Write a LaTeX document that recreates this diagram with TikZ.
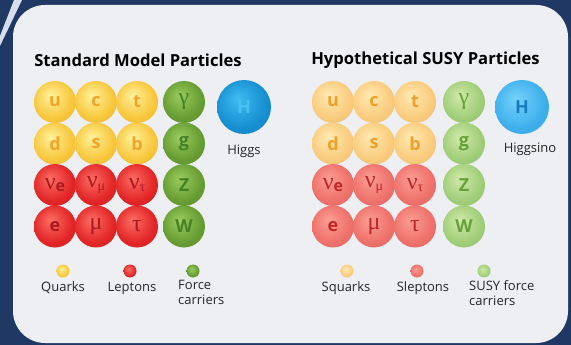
\documentclass[tikz,border=0pt]{standalone}
\usepackage{fontspec}
\setmainfont{Open Sans}
\newfontfamily\grk{Liberation Serif}
\usetikzlibrary{positioning}

\definecolor{navy}{RGB}{31,56,100}
\definecolor{panel}{RGB}{238,239,243}
\definecolor{stripe}{RGB}{215,222,235}
% standard model
\definecolor{quarkin}{RGB}{255,242,155}
\definecolor{quarkout}{RGB}{248,198,58}
\definecolor{quarktxt}{RGB}{240,165,40}
\definecolor{leptin}{RGB}{252,110,100}
\definecolor{leptout}{RGB}{226,36,38}
\definecolor{lepttxt}{RGB}{172,25,30}
\definecolor{forcein}{RGB}{155,204,95}
\definecolor{forceout}{RGB}{102,156,50}
\definecolor{forcetxt}{RGB}{72,128,38}
\definecolor{higgsin}{RGB}{64,188,242}
\definecolor{higgsout}{RGB}{22,142,208}
\definecolor{higgstxt}{RGB}{72,192,242}
% susy
\definecolor{squarkin}{RGB}{255,234,178}
\definecolor{squarkout}{RGB}{250,203,124}
\definecolor{squarktxt}{RGB}{240,160,40}
\definecolor{sleptin}{RGB}{252,158,148}
\definecolor{sleptout}{RGB}{238,112,106}
\definecolor{slepttxt}{RGB}{190,38,40}
\definecolor{sforcein}{RGB}{208,234,170}
\definecolor{sforceout}{RGB}{160,205,120}
\definecolor{sforcetxt}{RGB}{104,160,60}
\definecolor{sinoin}{RGB}{118,210,250}
\definecolor{sinoout}{RGB}{62,175,236}
\definecolor{sinotxt}{RGB}{24,124,190}

\colorlet{ballin}{white}
\colorlet{ballout}{gray}
\pgfdeclareradialshading[ballin,ballout]{partball}{\pgfqpoint{-6bp}{8bp}}{%
  color(0bp)=(ballin); color(24bp)=(ballout); color(34bp)=(ballout!94!black);
  color(50bp)=(ballout!94!black)}

\newcommand{\grl}[1]{{\grk\mdseries\fontsize{24}{24}\selectfont #1}}
\newcommand{\nue}{\grl{ν}{\fontsize{16}{16}\selectfont\raisebox{-2.5pt}{e}}}
\newcommand{\numu}{\grl{ν\raisebox{-2.5pt}{\fontsize{14}{14}\selectfont μ}}}
\newcommand{\nutau}{\grl{ν\raisebox{-2.5pt}{\fontsize{14}{14}\selectfont τ}}}

\tikzset{
  ballcols/.code 2 args={\colorlet{ballin}{#1}\colorlet{ballout}{#2}},
  ball/.style={circle,minimum size=42pt,inner sep=0pt,shading=partball,
    font=\bfseries\fontsize{18}{18}\selectfont},
  dot/.style={minimum size=13pt},
  quark/.style={ball,ballcols={quarkin}{quarkout},text=quarktxt},
  lepton/.style={ball,ballcols={leptin}{leptout},text=lepttxt},
  force/.style={ball,ballcols={forcein}{forceout},text=forcetxt},
  higgs/.style={ball,minimum size=54pt,ballcols={higgsin}{higgsout},text=higgstxt},
  squark/.style={ball,ballcols={squarkin}{squarkout},text=squarktxt},
  slepton/.style={ball,ballcols={sleptin}{sleptout},text=slepttxt},
  sforce/.style={ball,ballcols={sforcein}{sforceout},text=sforcetxt},
  higgsino/.style={ball,minimum size=54pt,ballcols={sinoin}{sinoout},text=sinotxt},
  heading/.style={font=\bfseries\fontsize{16.6}{18}\selectfont,inner sep=0pt},
  caption/.style={font=\fontsize{13}{15}\selectfont,inner sep=0pt,text=black!85}
}

\begin{document}
\begin{tikzpicture}[x=1pt,y=-1pt]
  \useasboundingbox (0,0) rectangle (571,345);
  \fill[navy] (0,0) rectangle (571,345);
  \fill[stripe] (14,0) -- (22,0) -- (0,46) -- (0,36) -- cycle;
  \fill[panel,rounded corners=32pt] (13,5) rectangle (568,343);

  % standard model
  \node[heading] (smtitle) at (138,60) {Standard Model Particles};
  \foreach \nm/\txt [count=\i from 0] in {u/u,c/c,t/t}
    \node[quark] (sm-\nm) at ({55+41*\i},102) {\txt};
  \foreach \nm/\txt [count=\i from 0] in {d/d,s/s,b/b}
    \node[quark] (sm-\nm) at ({55+41*\i},143.5) {\txt};
  \foreach \nm/\txt [count=\i from 0] in {ne/\nue,nm/\numu,nt/\nutau}
    \node[lepton] (sm-\nm) at ({55+41*\i},185) {\txt};
  \foreach \nm/\txt [count=\i from 0] in {e/e,mu/\grl{μ},tau/\grl{τ}}
    \node[lepton] (sm-\nm) at ({55+41*\i},226.5) {\txt};
  \foreach \nm/\txt [count=\i from 0] in {ga/\grl{γ},g/g,Z/Z,W/W}
    \node[force] (sm-\nm) at (184,{102+41.5*\i}) {\txt};
  \node[higgs] (sm-H) at (244,107) {H};
  \node[caption,below=11pt of sm-H] (sm-Hl) {Higgs};

  \node[quark,dot] (lg-q) at (63,271) {};
  \node[lepton,dot] (lg-l) at (130,271) {};
  \node[force,dot] (lg-f) at (193,271) {};
  \node[caption,anchor=base] (lg-qt) at (63,291) {Quarks};
  \node[caption,anchor=base] (lg-lt) at (132,291) {Leptons};
  \node[caption,anchor=north west,align=left] (lg-ft) at (178,280.5) {Force\\carriers};

  % susy
  \node[heading] (sytitle) at (425.5,60) {Hypothetical SUSY Particles};
  \foreach \nm/\txt [count=\i from 0] in {u/u,c/c,t/t}
    \node[squark] (sy-\nm) at ({333+41*\i},102) {\txt};
  \foreach \nm/\txt [count=\i from 0] in {d/d,s/s,b/b}
    \node[squark] (sy-\nm) at ({333+41*\i},143.5) {\txt};
  \foreach \nm/\txt [count=\i from 0] in {ne/\nue,nm/\numu,nt/\nutau}
    \node[slepton] (sy-\nm) at ({333+41*\i},185) {\txt};
  \foreach \nm/\txt [count=\i from 0] in {e/e,mu/\grl{μ},tau/\grl{τ}}
    \node[slepton] (sy-\nm) at ({333+41*\i},226.5) {\txt};
  \foreach \nm/\txt [count=\i from 0] in {ga/\grl{γ},g/g,Z/Z,W/W}
    \node[sforce] (sy-\nm) at (464,{102+41.5*\i}) {\txt};
  \node[higgsino] (sy-H) at (522,107) {H};
  \node[caption,anchor=base] (sy-Hl) at (530,152) {Higgsino};

  \node[squark,dot] (ls-q) at (347,271) {};
  \node[slepton,dot] (ls-l) at (417,271) {};
  \node[sforce,dot] (ls-f) at (484,271) {};
  \node[caption,anchor=base] (ls-qt) at (346,291) {Squarks};
  \node[caption,anchor=base] (ls-lt) at (423,291) {Sleptons};
  \node[caption,anchor=north west,align=left] (ls-ft) at (469,280.5) {SUSY force\\carriers};
\end{tikzpicture}
\end{document}
